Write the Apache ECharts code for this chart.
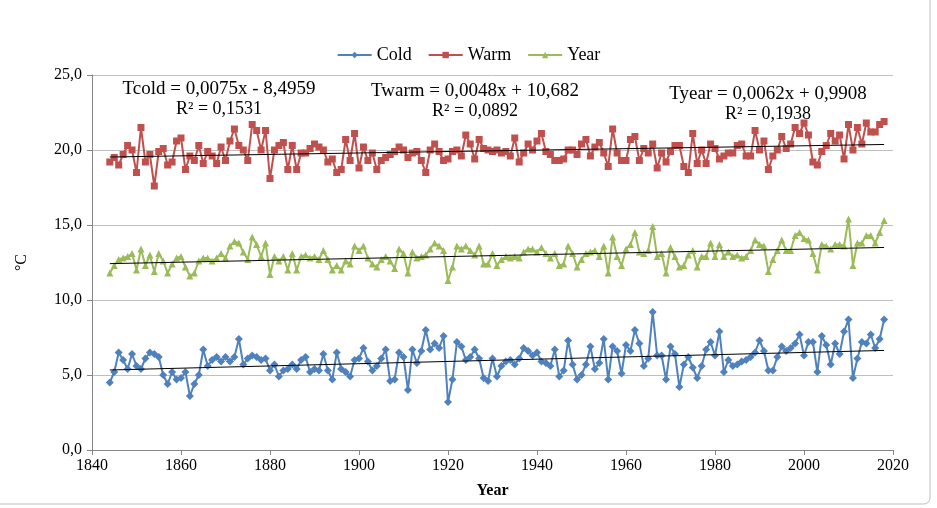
<!DOCTYPE html>
<html>
<head>
<meta charset="utf-8">
<title>Cold / Warm / Year</title>
<script src="https://cdn.jsdelivr.net/npm/echarts@6/dist/echarts.min.js"></script>
<style>
  html, body { margin: 0; padding: 0; background: #fff; }
  #chart { width: 937px; height: 508px; }
</style>
</head>
<body>
<div id="chart"></div>
<script>
// annual series, one value per year from firstYear on
const firstYear = 1844
const lastYear = 2018

const cold = [
  4.5, 5.2, 6.5, 6.0, 5.4, 6.4, 5.6, 5.4, 6.1, 6.5,
  6.4, 6.2, 5.0, 4.4, 5.2, 4.7, 4.8, 5.2, 3.6, 4.4,
  5.0, 6.7, 5.6, 6.0, 6.2, 5.9, 6.2, 5.9, 6.2, 7.4,
  5.7, 6.1, 6.3, 6.2, 6.0, 6.1, 5.3, 5.7, 4.9, 5.3,
  5.4, 5.7, 5.4, 6.0, 6.2, 5.2, 5.4, 5.3, 6.4, 5.3,
  4.7, 6.5, 5.4, 5.2, 4.9, 6.0, 6.1, 6.8, 5.9, 5.3,
  5.6, 6.1, 6.7, 4.6, 4.7, 6.5, 6.2, 4.0, 6.7, 5.8,
  6.6, 8.0, 6.7, 7.1, 6.8, 7.6, 3.2, 4.7, 7.2, 6.9,
  6.0, 6.2, 6.7, 6.1, 4.8, 4.6, 6.1, 4.9, 5.6, 5.9,
  6.0, 5.7, 6.1, 6.8, 6.6, 6.3, 6.5, 5.9, 5.8, 5.6,
  6.7, 4.9, 5.3, 7.3, 5.7, 4.7, 5.0, 5.7, 6.9, 5.4,
  5.8, 7.4, 4.7, 6.9, 6.6, 5.1, 7.0, 6.6, 8.0, 7.1,
  5.6, 6.1, 9.2, 6.3, 6.3, 4.7, 6.9, 6.4, 4.2, 5.7,
  6.2, 5.5, 4.8, 5.6, 6.7, 7.2, 6.3, 7.9, 5.2, 6.0,
  5.6, 5.7, 5.9, 6.0, 6.2, 6.5, 7.3, 6.6, 5.3, 5.3,
  6.2, 6.9, 6.6, 6.8, 7.1, 7.7, 6.3, 7.2, 7.2, 5.2,
  7.6, 7.0, 5.7, 7.1, 6.4, 7.9, 8.7, 4.8, 6.1, 7.2,
  7.1, 7.7, 6.8, 7.4, 8.7
]

const warm = [
  19.2, 19.5, 19.0, 19.7, 20.3, 20.0, 18.5, 21.5, 19.2, 19.7,
  17.6, 19.9, 20.1, 19.0, 19.2, 20.6, 20.8, 18.7, 19.6, 19.3,
  20.3, 19.1, 19.9, 19.6, 19.1, 20.2, 19.3, 20.6, 21.4, 20.3,
  20.0, 19.3, 21.7, 21.3, 20.0, 21.3, 18.1, 20.0, 20.3, 20.5,
  18.7, 20.3, 18.7, 19.8, 19.8, 20.1, 20.4, 20.2, 20.0, 19.2,
  19.4, 18.5, 18.7, 20.7, 19.3, 21.1, 18.8, 20.2, 19.3, 19.8,
  18.7, 19.3, 19.5, 19.7, 19.9, 20.2, 20.0, 19.5, 19.8, 19.9,
  19.3, 18.5, 20.0, 20.4, 19.9, 19.3, 19.4, 19.9, 20.0, 19.6,
  21.0, 20.4, 19.4, 20.7, 20.1, 20.0, 19.9, 20.0, 19.8, 19.9,
  19.6, 20.8, 19.2, 19.8, 20.4, 20.0, 20.6, 21.1, 19.9, 19.7,
  19.3, 19.3, 19.4, 20.0, 20.0, 19.7, 20.4, 20.7, 19.6, 20.2,
  20.5, 19.8, 18.9, 21.4, 19.8, 19.3, 19.3, 20.7, 20.9, 19.3,
  20.1, 19.8, 20.4, 18.8, 19.8, 19.2, 19.9, 20.3, 20.3, 18.9,
  18.5, 21.1, 19.1, 20.0, 19.1, 20.4, 20.1, 19.4, 19.6, 19.8,
  19.8, 20.3, 20.4, 19.6, 19.6, 21.3, 20.0, 20.6, 18.7, 19.6,
  20.0, 20.9, 20.1, 20.4, 21.5, 21.1, 21.8, 21.0, 19.2, 19.0,
  19.9, 20.3, 21.1, 20.6, 21.0, 19.4, 21.7, 20.0, 21.5, 20.4,
  21.8, 21.2, 21.2, 21.7, 21.9
]

const yearMean = [
  11.8, 12.3, 12.7, 12.8, 12.9, 13.1, 12.0, 13.4, 12.3, 13.0,
  11.9, 13.1, 12.6, 11.8, 12.4, 12.8, 12.9, 12.2, 11.6, 11.8,
  12.6, 12.8, 12.8, 12.6, 12.8, 13.1, 12.8, 13.6, 13.9, 13.8,
  13.2, 12.7, 14.2, 13.7, 12.9, 13.8, 11.7, 12.9, 12.6, 12.9,
  12.0, 13.1, 12.0, 12.9, 13.0, 12.8, 12.9, 12.7, 13.3, 12.7,
  12.0, 12.3, 12.0, 12.6, 12.4, 13.6, 13.3, 13.6, 12.8, 12.4,
  12.2, 12.7, 12.9, 12.6, 12.1, 13.4, 13.1, 11.8, 13.2, 12.8,
  12.9, 13.0, 13.4, 13.8, 13.6, 13.3, 11.3, 12.2, 13.6, 13.4,
  13.6, 13.3, 13.0, 13.6, 12.4, 12.4, 13.1, 12.3, 12.7, 12.9,
  12.8, 12.9, 12.8, 13.2, 13.4, 13.4, 13.2, 13.5, 13.1, 12.8,
  13.1, 12.3, 12.4, 13.6, 13.1, 12.2, 12.7, 13.1, 13.2, 13.3,
  12.9, 13.6, 11.8, 14.2, 12.9, 12.3, 13.4, 13.7, 14.5, 13.2,
  13.1, 13.3, 14.9, 12.9, 13.1, 11.8, 13.5, 12.9, 12.2, 12.3,
  13.0, 13.3, 12.2, 12.9, 12.9, 13.8, 12.9, 13.7, 12.9, 13.2,
  12.9, 13.0, 12.8, 12.9, 13.3, 14.0, 13.7, 13.6, 11.9, 12.7,
  13.3, 14.0, 13.3, 13.3, 14.3, 14.5, 14.1, 14.0, 13.1, 12.0,
  13.7, 13.6, 13.4, 13.7, 13.7, 13.6, 15.4, 12.3, 13.8, 13.8,
  14.3, 14.3, 13.8, 14.5, 15.3
]

// linear trend lines, as printed on the chart
const trendSlope = [0.0075, 0.0048, 0.0062]
const trendIntercept = [-8.4959, 10.682, 0.9908]
const trendEquation = ['Tcold = 0,0075x - 8,4959', 'Twarm = 0,0048x + 10,682', 'Tyear = 0,0062x + 0,9908']
const trendR2 = ['R² = 0,1531', 'R² = 0,0892', 'R² = 0,1938']

const seriesNames = ['Cold', 'Warm', 'Year']
const seriesColors = ['#4F81BD', '#C0504D', '#9BBB59']
const seriesSymbols = ['diamond', 'rect', 'triangle']
const seriesValues = [cold, warm, yearMean]

const serif = '"Liberation Serif", "Times New Roman", serif'

function toPoints(values) {
  return values.map((v, i) => [firstYear + i, v])
}

const chart = echarts.init(document.getElementById('chart'))

const series = seriesNames.map((name, k) => ({
  name: name,
  type: 'line',
  data: toPoints(seriesValues[k]),
  symbol: seriesSymbols[k],
  symbolSize: k === 0 ? 8 : 7,
  showAllSymbol: true,
  itemStyle: { color: seriesColors[k] },
  lineStyle: { color: seriesColors[k], width: 2 },
  animation: false
}))

trendSlope.forEach((a, k) => {
  const b = trendIntercept[k]
  series.push({
    name: 'trend' + k,
    type: 'line',
    data: [[firstYear, a * firstYear + b], [lastYear, a * lastYear + b]],
    symbol: 'none',
    silent: true,
    z: 5,
    lineStyle: { color: '#000', width: 1 },
    animation: false
  })
})

// chart-area frame, partly cropped at top/left like the screenshot
const graphics = [{
  type: 'rect', x: -6, y: -6, z: -1,
  shape: { width: 936, height: 510, r: 6 },
  style: { fill: 'none', stroke: '#BFBFBF', lineWidth: 1 }
}]

// equation labels (centre x, middle y of first line)
const eqPos = [[219, 89], [475, 91], [768, 94]]
eqPos.forEach((p, k) => {
  graphics.push({
    type: 'text', x: p[0], y: p[1],
    style: { text: trendEquation[k], font: '19px ' + serif, fill: '#000', align: 'center', verticalAlign: 'middle' }
  })
  graphics.push({
    type: 'text', x: p[0], y: p[1] + 20,
    style: { text: trendR2[k], font: '18px ' + serif, fill: '#000', align: 'center', verticalAlign: 'middle' }
  })
})

const option = {
  backgroundColor: '#fff',
  animation: false,
  grid: { left: 92, right: 44, top: 75, bottom: 58, containLabel: false },
  legend: {
    data: seriesNames,
    top: 41,
    left: 'center',
    itemWidth: 34,
    itemHeight: 8,
    itemGap: 16,
    textStyle: { fontFamily: serif, fontSize: 18, color: '#000' }
  },
  xAxis: {
    type: 'value',
    min: 1840,
    max: 2020,
    interval: 20,
    name: 'Year',
    nameLocation: 'middle',
    nameGap: 33,
    nameTextStyle: { fontFamily: serif, fontSize: 16, fontWeight: 'bold', color: '#000' },
    axisLine: { show: true, lineStyle: { color: '#868686' } },
    axisTick: { show: true, length: 5, lineStyle: { color: '#868686' } },
    axisLabel: { fontFamily: serif, fontSize: 16, color: '#000', margin: 8, formatter: v => String(v) },
    splitLine: { show: false }
  },
  yAxis: {
    type: 'value',
    min: 0,
    max: 25,
    interval: 5,
    name: '°C',
    nameLocation: 'middle',
    nameGap: 62,
    nameRotate: 90,
    nameTextStyle: { fontFamily: serif, fontSize: 16, color: '#000' },
    axisLine: { show: true, lineStyle: { color: '#868686' } },
    axisTick: { show: true, length: 5, lineStyle: { color: '#868686' } },
    axisLabel: {
      fontFamily: serif, fontSize: 16, color: '#000', margin: 10,
      formatter: v => v.toFixed(1).replace('.', ',')
    },
    splitLine: { show: true, lineStyle: { color: '#BFBFBF', width: 1 } }
  },
  graphic: graphics,
  series: series
}

chart.setOption(option)
</script>
</body>
</html>
